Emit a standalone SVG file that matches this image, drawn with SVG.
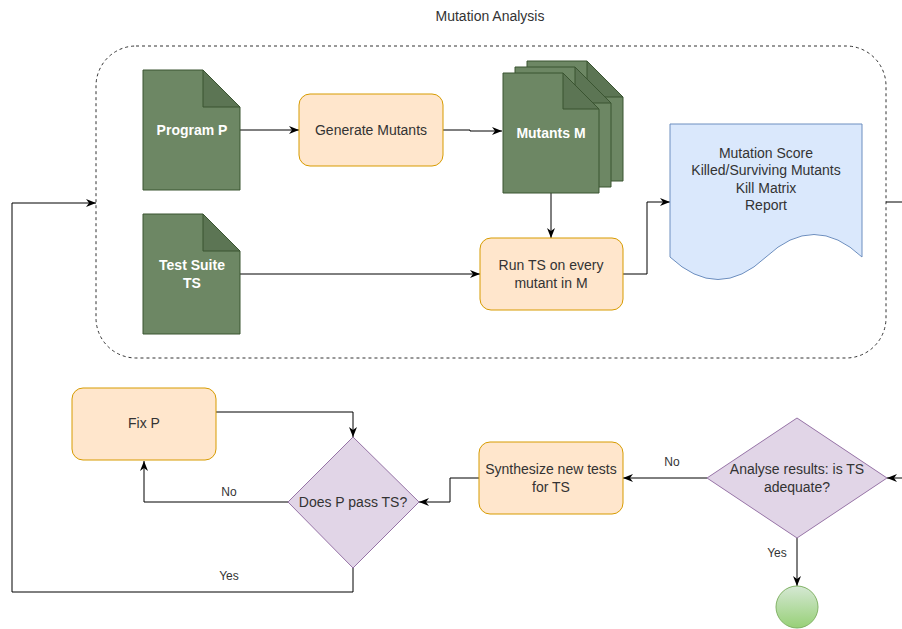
<svg xmlns="http://www.w3.org/2000/svg" width="902" height="629" viewBox="0 0 902 629">
  <style>
    text { font-family: "Liberation Sans", Arial, Helvetica, sans-serif; font-size: 14px; fill: #333333; text-anchor: middle; }
    .doc { fill: #6d8764; stroke: #3a5431; stroke-width: 1; }
    .fold { fill: #5c7554; stroke: #3a5431; stroke-width: 1; }
    .doctext { fill: #ffffff; font-weight: bold; }
    .proc { fill: #ffe6cc; stroke: #d79b00; stroke-width: 1; }
    .dec { fill: #e1d5e7; stroke: #9673a6; stroke-width: 1; }
    .report { fill: #dae8fc; stroke: #6c8ebf; stroke-width: 1; }
    .edge { fill: none; stroke: #000000; stroke-width: 1; }
    .lbl { font-size: 12px; }
  </style>
  <defs>
    <marker id="arrow" viewBox="0 0 10 10" refX="10" refY="5" markerWidth="10" markerHeight="10" markerUnits="userSpaceOnUse" orient="auto">
      <path d="M0,1 L10,5 L0,9 L3,5 Z" fill="#000000"/>
    </marker>
    <linearGradient id="endGrad" x1="0" y1="0" x2="0" y2="1">
      <stop offset="0" stop-color="#d5e8d4"/>
      <stop offset="1" stop-color="#97d077"/>
    </linearGradient>
  </defs>

  <rect width="902" height="629" fill="#ffffff"/>

  <text x="490" y="21">Mutation Analysis</text>

  <!-- dashed container -->
  <g id="container">
    <rect x="96" y="46" width="790" height="312" rx="40" ry="40" fill="none" stroke="#333333" stroke-width="1" stroke-dasharray="3 3"/>
  </g>

  <!-- connectors -->
  <g id="connectors">
    <path class="edge" d="M240,130 H299" marker-end="url(#arrow)"/>
    <path class="edge" d="M443,130 H470 V131 H502" marker-end="url(#arrow)"/>
    <path class="edge" d="M551,193 V238" marker-end="url(#arrow)"/>
    <path class="edge" d="M240,274 H480" marker-end="url(#arrow)"/>
    <path class="edge" d="M623,274 H647 V202 H670" marker-end="url(#arrow)"/>
    <path class="edge" d="M886,202 H912 V478 H887" marker-end="url(#arrow)"/>
    <path class="edge" d="M707,478 H623" marker-end="url(#arrow)"/>
    <path class="edge" d="M797,538 V586" marker-end="url(#arrow)"/>
    <path class="edge" d="M479,478 H450 V502 H419" marker-end="url(#arrow)"/>
    <path class="edge" d="M288,502 H144 V461" marker-end="url(#arrow)"/>
    <path class="edge" d="M216,412 H353 V437" marker-end="url(#arrow)"/>
    <path class="edge" d="M353,568 V592 H12 V203 H96" marker-end="url(#arrow)"/>
    <text class="lbl" x="672" y="466">No</text>
    <text class="lbl" x="777" y="557">Yes</text>
    <text class="lbl" x="229" y="496">No</text>
    <text class="lbl" x="229" y="580">Yes</text>
  </g>

  <g id="programP">
    <path class="doc" d="M143,70 H203 L240,107 V190 H143 Z"/>
    <path class="fold" d="M203,70 V107 H240 Z"/>
    <text class="doctext" x="192" y="135">Program P</text>
  </g>

  <g id="generateMutants">
    <rect class="proc" x="299" y="94" width="144" height="72" rx="11" ry="11"/>
    <text x="371" y="135">Generate Mutants</text>
  </g>

  <g id="mutantsM">
    <path class="doc" d="M527,61 H587 L623,97 V181 H527 Z"/>
    <path class="fold" d="M587,61 V97 H623 Z"/>
    <path class="doc" d="M515,67 H575 L611,103 V187 H515 Z"/>
    <path class="fold" d="M575,67 V103 H611 Z"/>
    <path class="doc" d="M503,73 H563 L599,109 V193 H503 Z"/>
    <path class="fold" d="M563,73 V109 H599 Z"/>
    <text class="doctext" x="551" y="138">Mutants M</text>
  </g>

  <g id="testSuite">
    <path class="doc" d="M143,214 H203 L240,251 V334 H143 Z"/>
    <path class="fold" d="M203,214 V251 H240 Z"/>
    <text class="doctext" x="192" y="270">Test Suite</text>
    <text class="doctext" x="192" y="288">TS</text>
  </g>

  <g id="runTS">
    <rect class="proc" x="480" y="238" width="143" height="72" rx="11" ry="11"/>
    <text x="551" y="270">Run TS on every</text>
    <text x="551" y="288">mutant in M</text>
  </g>

  <g id="report">
    <path class="report" d="M670,124 H862 V257 Q814,212 766,257 Q718,302 670,257 Z"/>
    <text x="766" y="158">Mutation Score</text>
    <text x="766" y="175">Killed/Surviving Mutants</text>
    <text x="766" y="193">Kill Matrix</text>
    <text x="766" y="210">Report</text>
  </g>

  <g id="analyse">
    <path class="dec" d="M797,418 L887,478 L797,538 L707,478 Z"/>
    <text x="797" y="474">Analyse results: is TS</text>
    <text x="797" y="492">adequate?</text>
  </g>

  <g id="endState">
    <circle cx="797" cy="607" r="21" fill="url(#endGrad)" stroke="#82b366" stroke-width="1"/>
  </g>

  <g id="synthesize">
    <rect class="proc" x="479" y="442" width="144" height="72" rx="11" ry="11"/>
    <text x="551" y="474">Synthesize new tests</text>
    <text x="551" y="492">for TS</text>
  </g>

  <g id="passTS">
    <path class="dec" d="M353,437 L419,502 L353,568 L288,502 Z"/>
    <text x="353" y="507">Does P pass TS?</text>
  </g>

  <g id="fixP">
    <rect class="proc" x="72" y="388" width="144" height="72" rx="11" ry="11"/>
    <text x="144" y="428">Fix P</text>
  </g>
</svg>
